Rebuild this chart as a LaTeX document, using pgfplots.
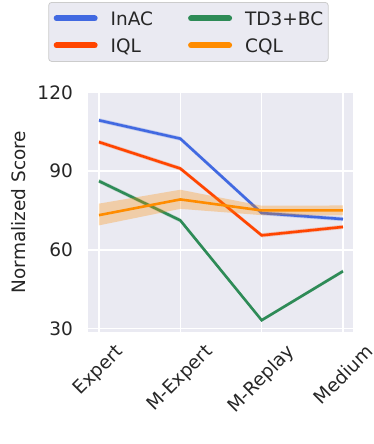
\documentclass[border=0pt]{standalone}
\usepackage{fontspec}
\setmainfont{DejaVu Sans}
\newfontfamily\capfont{Liberation Serif}
\usepackage{pgfplots}
\pgfplotsset{compat=1.18}

\definecolor{bgc}{HTML}{EAEAF2}
\definecolor{txtc}{HTML}{262626}
\definecolor{bordc}{HTML}{CCCCCC}
\definecolor{inac}{HTML}{4169E1}
\definecolor{iql}{HTML}{FF4500}
\definecolor{tdbc}{HTML}{2E8B57}
\definecolor{cql}{HTML}{FF8C00}
\newcommand\fs{\fontsize{18.5bp}{22bp}\selectfont}

\begin{document}
\begin{tikzpicture}
\begin{axis}[
    at={(88bp,-332bp)}, anchor=south west,
    scale only axis, width=265bp, height=240bp,
    xmin=-0.135, xmax=3.123,
    ymin=28.6, ymax=120.2,
    xtick={0,1,2,3},
    xticklabels={\rotatebox{45}{Expert},\rotatebox{45}{M-Expert},\rotatebox{45}{M-Replay},\rotatebox{45}{Medium}},
    ytick={30,60,90,120},
    grid=major,
    grid style={white, line width=1.6bp},
    axis background/.style={fill=bgc},
    axis line style={draw=none},
    major tick length=0pt,
    tick style={draw=none},
    ticklabel style={font=\fs, text=txtc},
    /pgf/number format/assume math mode=true,
    x tick label style={anchor=north, inner sep=0pt, yshift=-11bp},
    y tick label style={anchor=east, inner sep=0pt, xshift=-15bp},
    ylabel={Normalized Score},
    ylabel style={at={(axis description cs:-0.26,0.5)}, anchor=center, font=\fs, text=txtc},
    legend columns=2, transpose legend, legend cell align=left,
    legend style={at={(axis description cs:0.379,1.375)}, anchor=north,
        fill=bgc, draw=bordc, line width=0.8bp, rounded corners=3bp,
        font=\fs, text=txtc, inner xsep=5bp, inner ysep=9bp,
        column sep=13bp, row sep=13bp,
        nodes={inner sep=0pt, text height=13.5bp, text depth=0bp},
        /tikz/every even column/.append style={column sep=35bp}},
    legend image code/.code={
        \pgfpathrectangle{\pgfpoint{0bp}{-7bp}}{\pgfpoint{44bp}{14bp}}
        \pgfusepath{use as bounding box}
        \draw[#1, line width=6bp, line cap=round, rounded corners=0pt] (3bp,0bp) -- (41bp,0bp);
    },
]

% InAC
\addplot[fill=inac, draw=none, fill opacity=0.25, forget plot] coordinates {
    (0,110.2) (1,103.2) (2,74.8) (3,72.5) (3,70.9) (2,73.2) (1,101.6) (0,108.6)} -- cycle;
\addplot[color=inac, line width=2.6bp] coordinates {
    (0,109.4) (1,102.4) (2,74.0) (3,71.7)};
\addlegendentry{InAC}

% IQL
\addplot[fill=iql, draw=none, fill opacity=0.25, forget plot] coordinates {
    (0,101.9) (1,91.8) (2,66.3) (3,69.5) (3,67.9) (2,64.7) (1,90.2) (0,100.3)} -- cycle;
\addplot[color=iql, line width=2.6bp] coordinates {
    (0,101.1) (1,91.0) (2,65.5) (3,68.7)};
\addlegendentry{IQL}

% TD3+BC
\addplot[fill=tdbc, draw=none, fill opacity=0.25, forget plot] coordinates {
    (0,87.0) (1,72.0) (2,33.7) (3,52.5) (3,51.1) (2,32.5) (1,70.4) (0,85.4)} -- cycle;
\addplot[color=tdbc, line width=2.6bp] coordinates {
    (0,86.2) (1,71.2) (2,33.1) (3,51.8)};
\addlegendentry{TD3+BC}

% CQL
\addplot[fill=cql, draw=none, fill opacity=0.3, forget plot] coordinates {
    (0,77.6) (1,82.9) (2,76.8) (3,76.9) (3,73.1) (2,73.2) (1,75.6) (0,69.3)} -- cycle;
\addplot[color=cql, line width=2.6bp] coordinates {
    (0,73.2) (1,79.2) (2,75.0) (3,75.0)};
\addlegendentry{CQL}

\end{axis}
\node[anchor=base west, inner sep=0pt, font=\capfont\fontsize{25bp}{30bp}\selectfont] at (2bp,-462bp) {Figure 2:};
\pgfresetboundingbox
\path[use as bounding box] (0bp,0bp) rectangle (374bp,-444bp);
\end{tikzpicture}
\end{document}
